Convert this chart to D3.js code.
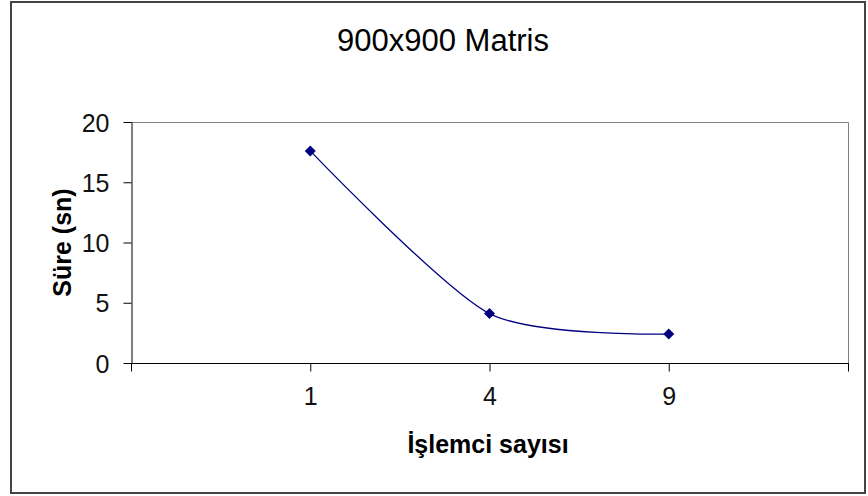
<!DOCTYPE html>
<html>
<head>
<meta charset="utf-8">
<script src="https://cdn.jsdelivr.net/npm/d3@7"></script>
<style>
  html, body { margin: 0; padding: 0; background: #fff; }
  svg { display: block; font-family: "Liberation Sans", Arial, sans-serif; }
</style>
</head>
<body>
<svg id="chart" width="868" height="496"></svg>
<script>
// Processor counts (category labels) and run times in seconds
const processors = ["1", "4", "9"];
const seconds = [17.6, 4.1, 2.4];
const yTicks = [0, 5, 10, 15, 20];

const svg = d3.select("#chart");
const plot = { left: 131, right: 848, top: 122, bottom: 363 };
const FONT = "'Liberation Sans', Arial, sans-serif";

// outer chart frame
svg.append("rect")
  .attr("x", 11).attr("y", 2)
  .attr("width", 854).attr("height", 491)
  .attr("fill", "#fff").attr("stroke", "#444").attr("stroke-width", 2);

// x positions: one empty slot on each side of the three categories
const slots = ["", ...processors, " "];
const x = d3.scalePoint().domain(slots).range([plot.left, plot.right]).padding(0);
const y = d3.scaleLinear().domain([0, 20]).range([plot.bottom, plot.top]);

// plot area border (top and right)
svg.append("path")
  .attr("d", `M${plot.left},${plot.top + 0.5}H${plot.right + 0.5}V${plot.bottom}`)
  .attr("fill", "none").attr("stroke", "#808080").attr("stroke-width", 1);

// y axis
const yAxis = svg.append("g")
  .attr("transform", `translate(${plot.left + 0.5},0)`)
  .call(d3.axisLeft(y).tickValues(yTicks).tickSize(8).tickPadding(14).tickSizeOuter(0));
yAxis.select(".domain").attr("stroke", "#000");
yAxis.selectAll(".tick line").attr("stroke", "#000");
yAxis.selectAll("text").attr("font-size", 25).attr("fill", "#111")
  .attr("font-family", FONT).attr("dy", "0.36em");

// x axis
const xAxis = svg.append("g")
  .attr("transform", `translate(0,${plot.bottom + 0.5})`)
  .call(d3.axisBottom(x).tickSize(8).tickPadding(16).tickSizeOuter(0));
xAxis.select(".domain").attr("stroke", "#000").attr("d", `M${plot.left},0H${plot.right + 1}`);
xAxis.selectAll(".tick line").attr("stroke", "#000");
xAxis.selectAll("text").attr("font-size", 25).attr("fill", "#111")
  .attr("font-family", FONT);

// smoothed series line
const pts = processors.map((p, i) => [x(p), y(seconds[i])]);
svg.append("path")
  .datum(pts)
  .attr("d", d3.line().curve(d3.curveCardinal.tension(0.25)))
  .attr("fill", "none").attr("stroke", "#000080").attr("stroke-width", 1.3);

// diamond markers
svg.selectAll(".marker")
  .data(pts)
  .join("path")
  .attr("class", "marker")
  .attr("transform", d => `translate(${d[0]},${d[1]})`)
  .attr("d", "M0,-5.5L5.5,0L0,5.5L-5.5,0Z")
  .attr("fill", "#000080");

// title
svg.append("text")
  .attr("x", 443).attr("y", 51)
  .attr("text-anchor", "middle")
  .attr("font-size", 31).attr("fill", "#000")
  .text("900x900 Matris");

// axis titles
svg.append("text")
  .attr("x", 488).attr("y", 453)
  .attr("text-anchor", "middle")
  .attr("font-size", 25).attr("font-weight", "bold").attr("fill", "#000")
  .text("İşlemci sayısı");

svg.append("text")
  .attr("transform", `translate(71,${(plot.top + plot.bottom) / 2}) rotate(-90)`)
  .attr("text-anchor", "middle")
  .attr("font-size", 25).attr("font-weight", "bold").attr("fill", "#000")
  .text("Süre (sn)");
</script>
</body>
</html>
